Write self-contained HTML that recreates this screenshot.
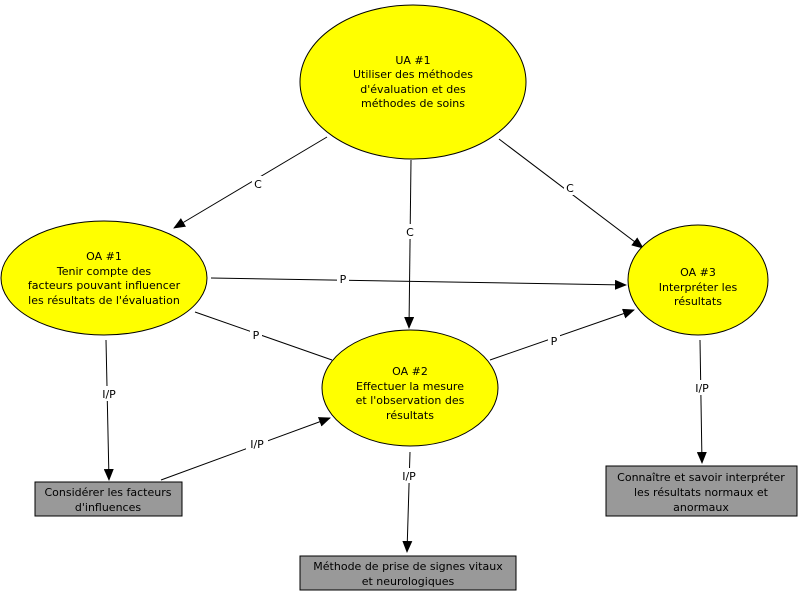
<!DOCTYPE html>
<html><head><meta charset="utf-8"><style>
html,body{margin:0;padding:0;background:#fff;}
svg text{font-family:"DejaVu Sans","Liberation Sans",sans-serif;font-size:11px;fill:#000;}
</style></head><body>
<svg width="800" height="592" viewBox="0 0 800 592" xmlns="http://www.w3.org/2000/svg">
<defs><marker id="a" markerWidth="12" markerHeight="10" refX="11" refY="5" orient="auto" markerUnits="userSpaceOnUse"><path d="M0,0 L12,5 L0,10 z" fill="#000"/></marker></defs>
<g stroke="#000" stroke-width="1" fill="none">
<line x1="327" y1="137" x2="174" y2="228" marker-end="url(#a)"/>
<line x1="411" y1="160" x2="409" y2="328" marker-end="url(#a)"/>
<line x1="499" y1="139" x2="643" y2="248" marker-end="url(#a)"/>
<line x1="211" y1="278" x2="626" y2="285" marker-end="url(#a)"/>
<line x1="195" y1="312" x2="332" y2="360"/>
<line x1="490" y1="360" x2="634" y2="310" marker-end="url(#a)"/>
<line x1="106" y1="340" x2="109" y2="480" marker-end="url(#a)"/>
<line x1="161" y1="480" x2="330" y2="418" marker-end="url(#a)"/>
<line x1="410" y1="452" x2="407" y2="552" marker-end="url(#a)"/>
<line x1="700" y1="340" x2="702" y2="463" marker-end="url(#a)"/>
</g>
<g fill="#fff">
<rect x="252" y="176" width="12" height="15"/>
<rect x="404" y="224" width="12" height="15"/>
<rect x="564" y="180" width="12" height="15"/>
<rect x="337" y="271" width="12" height="15"/>
<rect x="250" y="327" width="12" height="15"/>
<rect x="548" y="333" width="12" height="15"/>
<rect x="98" y="386" width="22" height="15"/>
<rect x="246" y="436" width="22" height="15"/>
<rect x="398" y="468" width="22" height="15"/>
<rect x="691" y="380" width="22" height="15"/>
</g>
<g text-anchor="middle">
<text x="258" y="188">C</text>
<text x="410" y="236">C</text>
<text x="570" y="192">C</text>
<text x="343" y="283">P</text>
<text x="256" y="339">P</text>
<text x="554" y="345">P</text>
<text x="109" y="398">I/P</text>
<text x="257" y="448">I/P</text>
<text x="409" y="480">I/P</text>
<text x="702" y="392">I/P</text>
</g>
<g fill="#ffff00" stroke="#000">
<ellipse cx="413" cy="82" rx="113" ry="77"/>
<ellipse cx="104" cy="278" rx="103" ry="57"/>
<ellipse cx="410" cy="388" rx="88" ry="58"/>
<ellipse cx="698" cy="280" rx="70" ry="55"/>
</g>
<g fill="#999999" stroke="#000">
<rect x="35" y="482" width="147" height="34"/>
<rect x="300" y="556" width="216" height="34"/>
<rect x="606" y="466" width="191" height="50"/>
</g>
<g text-anchor="middle">
<text x="413" y="64">UA #1</text>
<text x="413" y="78">Utiliser des méthodes</text>
<text x="413" y="93">d'évaluation et des</text>
<text x="413" y="107">méthodes de soins</text>
<text x="104" y="260">OA #1</text>
<text x="104" y="275">Tenir compte des</text>
<text x="104" y="289">facteurs pouvant influencer</text>
<text x="104" y="304">les résultats de l'évaluation</text>
<text x="410" y="375">OA #2</text>
<text x="410" y="390">Effectuer la mesure</text>
<text x="410" y="404">et l'observation des</text>
<text x="410" y="419">résultats</text>
<text x="698" y="276">OA #3</text>
<text x="698" y="291">Interpréter les</text>
<text x="698" y="305">résultats</text>
<text x="108" y="496">Considérer les facteurs</text>
<text x="108" y="511">d'influences</text>
<text x="408" y="570">Méthode de prise de signes vitaux</text>
<text x="408" y="585">et neurologiques</text>
<text x="701" y="481">Connaître et savoir interpréter</text>
<text x="701" y="496">les résultats normaux et</text>
<text x="701" y="511">anormaux</text>
</g>
</svg>
</body></html>
